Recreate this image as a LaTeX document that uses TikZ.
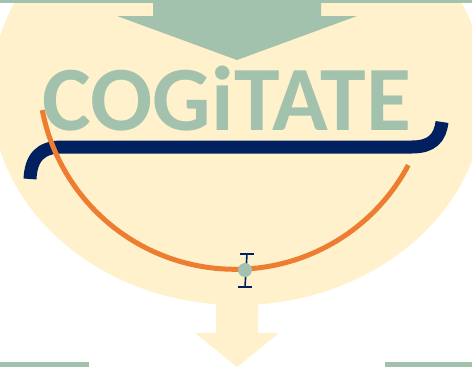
\documentclass[tikz,border=0pt]{standalone}
\usepackage{fontspec}
\newfontfamily\logofont{Carlito}
\definecolor{cream}{RGB}{255,241,204}
\definecolor{sage}{RGB}{162,194,174}
\definecolor{navy}{RGB}{0,32,96}
\definecolor{orng}{RGB}{237,125,49}
\tikzset{
  greenpart/.style={fill=sage},
  creampart/.style={fill=cream},
  bracestroke/.style={draw=navy, line width=13pt, line cap=butt},
  arcstroke/.style={draw=orng, line width=5pt},
  errstroke/.style={draw=navy, line width=1.6pt}
}
\begin{document}
\begin{tikzpicture}[x=1pt,y=-1pt]
\useasboundingbox (0,0) rectangle (472,367);
% cream ellipse
\fill[creampart] (238,93) ellipse [x radius=247, y radius=212];
% bottom cream arrow
\fill[creampart] (216,290) -- (258,290) -- (258,333) -- (279,333) -- (237,367) -- (195,333) -- (216,333) -- cycle;
% green bands
\fill[greenpart] (0,0) rectangle (472,3);
\fill[greenpart] (0,362) rectangle (89,367);
\fill[greenpart] (385,362) rectangle (472,367);
% top green arrow
\fill[greenpart] (153,0) -- (321,0) -- (321,16) -- (357,16) -- (237,60) -- (117,16) -- (153,16) -- cycle;
% title
\node[inner sep=0pt, anchor=base, text=sage, font=\logofont\bfseries\fontsize{92}{92}\selectfont] (title) at (227,130) {COGiTATE};
% navy brace
\draw[bracestroke] (30,179) .. controls (31,158) and (40,147) .. (62,147) -- (412,147) .. controls (432,147) and (440,138) .. (442,122);
% orange arc
\draw[arcstroke] plot[domain=28:169.1, samples=80] ({235+196.3*cos(\x)}, {73+196.3*sin(\x)});
% error bar and dot
\draw[errstroke] (247,254) -- (245,287);
\draw[errstroke] (240,254) -- (254,254);
\draw[errstroke] (238,287) -- (252,287);
\fill[sage] (245,270) circle[radius=7];
\end{tikzpicture}
\end{document}
